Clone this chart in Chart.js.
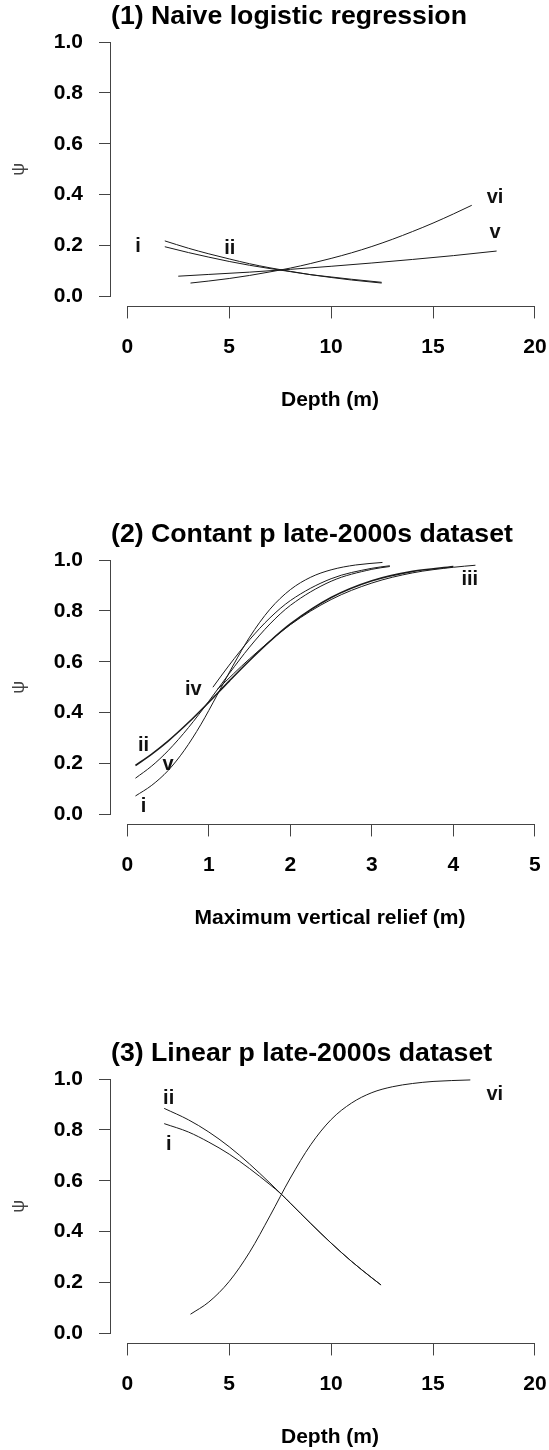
<!DOCTYPE html>
<html>
<head>
<meta charset="utf-8">
<title>Occupancy curves</title>
<script src="https://cdn.jsdelivr.net/npm/chart.js@4.4.1/dist/chart.umd.min.js"></script>
<style>
  body { margin: 0; background: #fff; }
  .panel { position: absolute; left: 0; }
</style>
</head>
<body>
<canvas id="naive" class="panel" width="549" height="413" style="top:0"></canvas>
<canvas id="contant" class="panel" width="549" height="413" style="top:518px"></canvas>
<canvas id="linear" class="panel" width="549" height="413" style="top:1037px"></canvas>
<script>
// axis ticks
var depthTicks = [0, 5, 10, 15, 20];
var reliefTicks = [0, 1, 2, 3, 4, 5];
var psiTicks = [0, 0.2, 0.4, 0.6, 0.8, 1.0];

// (1) naive logistic regression, psi vs depth
var naiveDepthI = [1.84, 3, 4, 5, 6, 7, 8, 9, 10, 11, 12.48];
var naivePsiI = [0.195, 0.172, 0.154, 0.137, 0.122, 0.109, 0.097, 0.085, 0.076, 0.067, 0.055];
var naiveDepthII = [1.84, 3, 4, 5, 6, 7, 8, 9, 10, 11, 12.48];
var naivePsiII = [0.218, 0.189, 0.167, 0.147, 0.128, 0.112, 0.098, 0.085, 0.074, 0.064, 0.052];
var naiveDepthV = [2.5, 4, 6, 8, 10, 12, 14, 16, 18.12];
var naivePsiV = [0.079, 0.086, 0.095, 0.106, 0.118, 0.131, 0.145, 0.16, 0.178];
var naiveDepthVI = [3.1, 4, 5, 6, 7, 8, 9, 10, 11, 12, 13, 14, 15, 16, 16.9];
var naivePsiVI = [0.052, 0.06, 0.07, 0.082, 0.096, 0.111, 0.129, 0.149, 0.171, 0.196, 0.224, 0.255, 0.288, 0.324, 0.358];
var naiveLabels = ["i", "ii", "vi", "v"];
var naiveLabelX = [0.53, 5.03, 18.04, 18.04];
var naiveLabelY = [0.194, 0.19, 0.39, 0.25];

// (2) constant p, psi vs maximum vertical relief
var reliefI = [0.1, 0.3, 0.5, 0.7, 0.9, 1.1, 1.3, 1.5, 1.75, 2.0, 2.25, 2.5, 2.8, 3.13];
var reliefPsiI = [0.072, 0.114, 0.172, 0.252, 0.352, 0.468, 0.587, 0.697, 0.807, 0.884, 0.933, 0.962, 0.981, 0.991];
var reliefII = [0.1, 0.3, 0.5, 0.75, 1.0, 1.25, 1.5, 1.75, 2.0, 2.5, 3.0, 3.5, 4.0];
var reliefPsiII = [0.192, 0.237, 0.288, 0.361, 0.441, 0.524, 0.605, 0.681, 0.749, 0.853, 0.919, 0.956, 0.975];
var reliefIII = [1.1, 1.5, 2.0, 2.5, 3.0, 3.5, 4.0, 4.27];
var reliefPsiIII = [0.49, 0.612, 0.746, 0.845, 0.91, 0.95, 0.972, 0.98];
var reliefIV = [1.05, 1.25, 1.5, 1.75, 2.0, 2.5, 3.0, 3.22];
var reliefPsiIV = [0.5, 0.587, 0.687, 0.773, 0.841, 0.927, 0.968, 0.978];
var reliefV = [0.1, 0.3, 0.5, 0.75, 1.0, 1.25, 1.5, 1.75, 2.0, 2.5, 3.0, 3.22];
var reliefPsiV = [0.142, 0.19, 0.25, 0.341, 0.445, 0.554, 0.658, 0.749, 0.822, 0.917, 0.964, 0.975];
var reliefLabels = ["ii", "v", "i", "iv", "iii"];
var reliefLabelX = [0.2, 0.5, 0.2, 0.81, 4.2];
var reliefLabelY = [0.272, 0.197, 0.029, 0.49, 0.924];

// (3) linear p, psi vs depth
var linearDepthI = [1.81, 3, 4, 5, 6, 7, 7.56, 8, 9, 10, 11, 12, 12.45];
var linearPsiI = [0.825, 0.792, 0.752, 0.705, 0.648, 0.585, 0.547, 0.512, 0.432, 0.355, 0.283, 0.218, 0.19];
var linearDepthII = [1.81, 3, 4, 5, 6, 7, 8, 9, 10, 11, 12, 12.45];
var linearPsiII = [0.885, 0.84, 0.792, 0.734, 0.666, 0.591, 0.512, 0.432, 0.355, 0.283, 0.218, 0.19];
var linearDepthVI = [3.1, 4, 5, 6, 7, 8, 9, 10, 11, 12, 13, 14, 15, 16.83];
var linearPsiVI = [0.075, 0.123, 0.204, 0.319, 0.462, 0.611, 0.742, 0.841, 0.906, 0.947, 0.97, 0.983, 0.991, 0.997];
var linearLabels = ["ii", "i", "vi"];
var linearLabelX = [2.03, 2.03, 18.03];
var linearLabelY = [0.924, 0.744, 0.941];

var family = "'Liberation Sans', Arial, Helvetica, sans-serif";
var axisColor = "#444";
var lineColor = "#1a1a1a";

// R style axis lines: only between the first and last tick
var rAxes = {
  id: "rAxes",
  afterDraw: function (chart) {
    var ctx = chart.ctx;
    var area = chart.chartArea;
    var xs = chart.scales.x;
    var ys = chart.scales.y;
    var left = Math.round(area.left) - 0.5;
    var bottom = Math.round(area.bottom) + 0.5;
    ctx.save();
    ctx.strokeStyle = axisColor;
    ctx.lineWidth = 1;
    ctx.beginPath();
    ctx.moveTo(left, ys.getPixelForValue(ys.ticks[0].value));
    ctx.lineTo(left, ys.getPixelForValue(ys.ticks[ys.ticks.length - 1].value));
    ctx.moveTo(xs.getPixelForValue(xs.ticks[0].value), bottom);
    ctx.lineTo(xs.getPixelForValue(xs.ticks[xs.ticks.length - 1].value), bottom);
    ctx.stroke();
    ctx.restore();
  },
};

// roman numeral tags next to the curves
var curveLabels = {
  id: "curveLabels",
  afterDatasetsDraw: function (chart, args, opts) {
    var ctx = chart.ctx;
    ctx.save();
    ctx.fillStyle = "#111";
    ctx.font = "bold 20px " + family;
    ctx.textAlign = "center";
    ctx.textBaseline = "middle";
    for (var i = 0; i < opts.text.length; i++) {
      ctx.fillText(
        opts.text[i],
        chart.scales.x.getPixelForValue(opts.x[i]),
        chart.scales.y.getPixelForValue(opts.y[i])
      );
    }
    ctx.restore();
  },
};

function curve(xs, ys, width) {
  var pts = [];
  for (var i = 0; i < xs.length; i++) {
    pts.push({ x: xs[i], y: ys[i] });
  }
  return {
    data: pts,
    borderColor: lineColor,
    borderWidth: width || 1,
    pointRadius: 0,
    fill: false,
    cubicInterpolationMode: "monotone",
  };
}

function makePanel(id, title, xTitle, xTicks, xMin, xMax, datasets, labels) {
  var ctx = document.getElementById(id).getContext("2d");
  return new Chart(ctx, {
    type: "line",
    data: { datasets: datasets },
    options: {
      responsive: false,
      animation: false,
      layout: { padding: 0 },
      plugins: {
        legend: { display: false },
        tooltip: { enabled: false },
        title: {
          display: true,
          text: title,
          align: "start",
          fullSize: false,
          color: "#000",
          font: { family: family, size: 26.7, weight: "bold", lineHeight: 1 },
          padding: { top: 3.65, bottom: 1.65 },
        },
        curveLabels: labels,
      },
      scales: {
        x: {
          type: "linear",
          min: xMin,
          max: xMax,
          afterBuildTicks: function (scale) {
            scale.ticks = xTicks.map(function (v) {
              return { value: v };
            });
          },
          border: { display: false },
          grid: { drawOnChartArea: false, tickLength: 12, color: axisColor },
          ticks: {
            padding: 0,
            color: "#000",
            maxRotation: 0,
            autoSkip: false,
            font: { family: family, size: 21, weight: "bold", lineHeight: 2.76 },
            callback: function (v) {
              return String(v);
            },
          },
          title: {
            display: true,
            text: xTitle,
            color: "#000",
            font: { family: family, size: 21, weight: "bold", lineHeight: 1.2 },
            padding: { top: 11.4, bottom: 0 },
          },
        },
        y: {
          min: -0.04,
          max: 1.04,
          afterBuildTicks: function (scale) {
            scale.ticks = psiTicks.map(function (v) {
              return { value: v };
            });
          },
          afterFit: function (scale) {
            scale.width = 111;
          },
          border: { display: false },
          grid: { drawOnChartArea: false, tickLength: 12, color: axisColor },
          ticks: {
            padding: 16,
            color: "#000",
            font: { family: family, size: 21, weight: "bold", lineHeight: 1.2 },
            callback: function (v) {
              return v.toFixed(1);
            },
          },
          title: {
            display: true,
            text: "ψ",
            color: "#444",
            font: { family: family, size: 18, lineHeight: 1.2 },
            padding: { top: 8.2, bottom: 0 },
          },
        },
      },
    },
    plugins: [rAxes, curveLabels],
  });
}

makePanel(
  "naive",
  "(1) Naive logistic regression",
  "Depth (m)",
  depthTicks,
  -0.8,
  20.69,
  [
    curve(naiveDepthI, naivePsiI),
    curve(naiveDepthII, naivePsiII),
    curve(naiveDepthV, naivePsiV),
    curve(naiveDepthVI, naivePsiVI),
  ],
  { text: naiveLabels, x: naiveLabelX, y: naiveLabelY }
);

makePanel(
  "contant",
  "(2) Contant p late-2000s dataset",
  "Maximum vertical relief (m)",
  reliefTicks,
  -0.2,
  5.1725,
  [
    curve(reliefI, reliefPsiI),
    curve(reliefII, reliefPsiII, 1.6),
    curve(reliefIII, reliefPsiIII),
    curve(reliefIV, reliefPsiIV),
    curve(reliefV, reliefPsiV),
  ],
  { text: reliefLabels, x: reliefLabelX, y: reliefLabelY }
);

makePanel(
  "linear",
  "(3) Linear p late-2000s dataset",
  "Depth (m)",
  depthTicks,
  -0.8,
  20.69,
  [
    curve(linearDepthI, linearPsiI),
    curve(linearDepthII, linearPsiII),
    curve(linearDepthVI, linearPsiVI),
  ],
  { text: linearLabels, x: linearLabelX, y: linearLabelY }
);
</script>
</body>
</html>
